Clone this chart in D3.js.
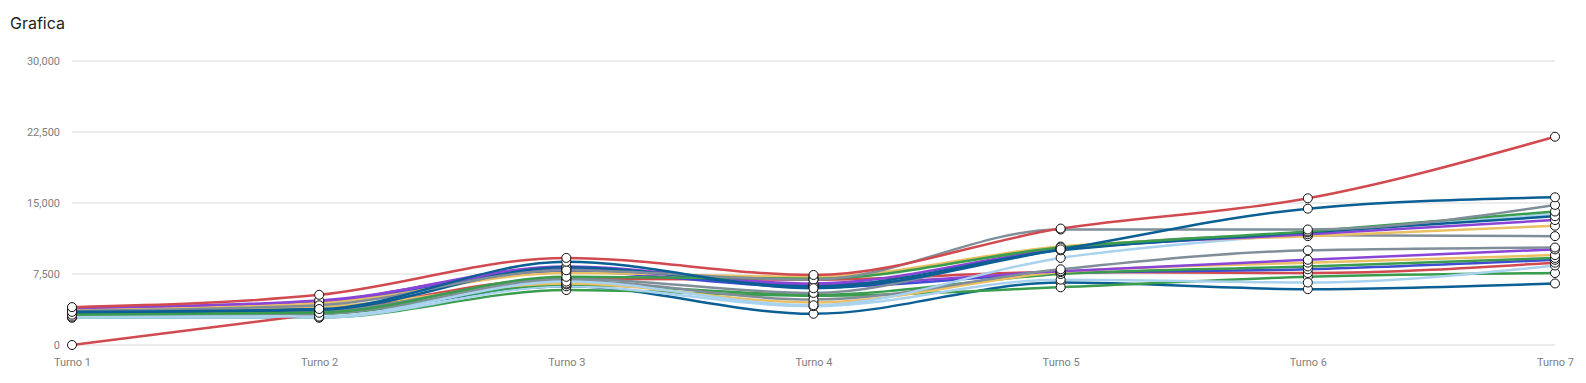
<!DOCTYPE html>
<html>
<head>
<meta charset="utf-8">
<script src="https://cdn.jsdelivr.net/npm/d3@7"></script>
<style>
	body { margin: 0; background: #fff; }
	svg { display: block; }
</style>
</head>
<body>
<svg></svg>
<script>
const WIDTH = 1586;
const HEIGHT = 383;

const categories = ["Turno 1", "Turno 2", "Turno 3", "Turno 4", "Turno 5", "Turno 6", "Turno 7"];
const yTicks = [0, 7500, 15000, 22500, 30000];

// one array per line
const red1 = [4000, 5300, 9200, 7400, 12300, 15500, 22000];
const darkBlue1 = [3500, 3800, 8800, 6000, 10100, 14400, 15600];
const gray1 = [3600, 4200, 7900, 6900, 12200, 12200, 14800];
const green1 = [3200, 3400, 7200, 7000, 10300, 12000, 14100];
const darkBlue2 = [3400, 3700, 8200, 6200, 10000, 11900, 13600];
const purple1 = [3900, 4700, 8000, 6500, 10100, 11700, 13200];
const yellow1 = [3700, 4400, 7600, 7200, 10400, 11500, 12600];
const lightBlue1 = [3000, 3000, 6700, 4200, 9200, 11800, 13800];
const gray2 = [3300, 3600, 7000, 5500, 10200, 11600, 11500];
const gray3 = [3100, 3300, 6800, 4800, 8000, 10000, 10300];
const purple2 = [3800, 4600, 8300, 6400, 7800, 9000, 10100];
const yellow2 = [3500, 4000, 6500, 4500, 7700, 8700, 9500];
const green2 = [3200, 3300, 6400, 5300, 7500, 8300, 9200];
const blue1 = [3700, 4500, 7800, 6100, 7600, 8000, 9000];
const red2 = [0, 3300, 7000, 6900, 7700, 7600, 8700];
const lightBlue2 = [2900, 2900, 6200, 4100, 6900, 6600, 8400];
const green3 = [2900, 2900, 5800, 5200, 6100, 7200, 7600];
const darkBlue3 = [3300, 3400, 6200, 3300, 6600, 5900, 6500];

const series = [
	{values: darkBlue3, color: "#0b5f95"},
	{values: green3, color: "#3a9d4e"},
	{values: lightBlue2, color: "#a9d2ef"},
	{values: red2, color: "#d04a4f"},
	{values: blue1, color: "#3f4dd0"},
	{values: green2, color: "#3a9d4e"},
	{values: yellow2, color: "#ebc064"},
	{values: purple2, color: "#8a45d6"},
	{values: gray3, color: "#7f8e99"},
	{values: gray2, color: "#7f8e99"},
	{values: lightBlue1, color: "#a9d2ef"},
	{values: yellow1, color: "#ebc064"},
	{values: purple1, color: "#8a45d6"},
	{values: darkBlue2, color: "#0b5f95"},
	{values: green1, color: "#3a9d4e"},
	{values: gray1, color: "#7f8e99"},
	{values: darkBlue1, color: "#0b5f95"},
	{values: red1, color: "#d04a4f"}
];

const svg = d3.select("svg")
	.attr("width", WIDTH)
	.attr("height", HEIGHT);

svg.append("text")
	.attr("x", 10)
	.attr("y", 29)
	.attr("font-family", "Inter, 'Noto Sans', sans-serif")
	.attr("font-size", 16)
	.attr("fill", "#222")
	.text("Grafica");

const xScale = d3.scalePoint()
	.domain(categories)
	.range([72, 1555]);

const yScale = d3.scaleLinear()
	.domain([0, 30000])
	.range([345, 61]);

// grid lines
svg.append("g")
	.selectAll("line")
	.data(yTicks)
	.enter()
	.append("line")
	.attr("x1", xScale.range()[0]).attr("x2", xScale.range()[1])
	.attr("y1", d => yScale(d)).attr("y2", d => yScale(d))
	.attr("stroke", "#e6e6e6").attr("stroke-width", 1.5);

// y axis labels
const yAxis = d3.axisLeft(yScale)
	.tickValues(yTicks)
	.tickFormat(d3.format(","))
	.tickSize(0)
	.tickPadding(0);
const yAxisArea = svg.append("g")
	.attr("transform", "translate(60, 0)")
	.call(yAxis);
yAxisArea.select(".domain").remove();
yAxisArea.selectAll("text")
	.attr("font-family", "Roboto, 'Liberation Sans', sans-serif")
	.attr("font-size", 11)
	.attr("fill", "#808080");

// x axis labels
const xAxis = d3.axisBottom(xScale).tickSize(0).tickPadding(0);
const xAxisArea = svg.append("g")
	.attr("transform", "translate(0, 358)")
	.call(xAxis);
xAxisArea.select(".domain").remove();
xAxisArea.selectAll("text")
	.attr("font-family", "Roboto, 'Liberation Sans', sans-serif")
	.attr("font-size", 11)
	.attr("fill", "#808080");

// lines
const line = d3.line()
	.x((d, i) => xScale(categories[i]))
	.y(d => yScale(d))
	.curve(d3.curveMonotoneX);

svg.append("g")
	.selectAll("path")
	.data(series)
	.enter()
	.append("path")
	.attr("d", d => line(d.values))
	.attr("fill", "none")
	.attr("stroke", d => d.color)
	.attr("stroke-width", 2.5);

// points
series.forEach(function(s) {
	svg.append("g")
		.selectAll("circle")
		.data(s.values)
		.enter()
		.append("circle")
		.attr("cx", (d, i) => xScale(categories[i]))
		.attr("cy", d => yScale(d))
		.attr("r", 4.5)
		.attr("fill", "#fff")
		.attr("stroke", "#111")
		.attr("stroke-width", 1);
});
</script>
</body>
</html>
